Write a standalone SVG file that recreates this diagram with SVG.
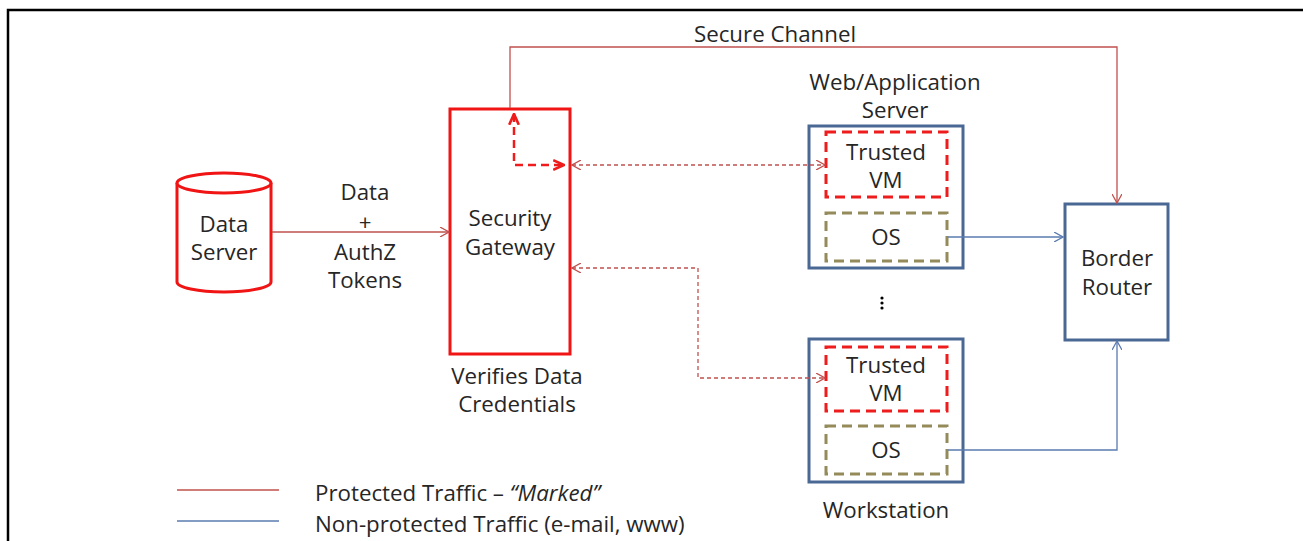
<svg xmlns="http://www.w3.org/2000/svg" width="1303" height="541" viewBox="0 0 1303 541">
  <style>
    text { font-family: "Open Sans", "Noto Sans", "Liberation Sans", sans-serif; font-size: 22.3px; fill: #262626; text-anchor: middle; }
    .legend { text-anchor: start; }
    .gw { fill: #fff; stroke: #f01414; stroke-width: 3; }
    .host { fill: #fff; stroke: #4a6894; stroke-width: 3; }
    .tvm { fill: none; stroke: #ee1c1c; stroke-width: 3; stroke-dasharray: 10 6; }
    .os { fill: none; stroke: #948a5a; stroke-width: 3; stroke-dasharray: 10 6; }
    .prot { fill: none; stroke: #c0504d; stroke-width: 1.3; }
    .plain { fill: none; stroke: #5a7bb0; stroke-width: 1.3; }
    .dot { fill: none; stroke: #c0504d; stroke-width: 1.3; stroke-dasharray: 4 3; }
    .inner { fill: none; stroke: #ee1c1c; stroke-width: 2.5; stroke-dasharray: 8 5; }
  </style>
  <defs>
    <marker id="arrRed" viewBox="0 0 10 10" refX="9" refY="5" markerWidth="10" markerHeight="10" markerUnits="userSpaceOnUse" orient="auto-start-reverse">
      <path d="M0,0 L9,5 L0,10" fill="none" stroke="#c0504d" stroke-width="1.3"/>
    </marker>
    <marker id="arrBlue" viewBox="0 0 10 10" refX="9" refY="5" markerWidth="10" markerHeight="10" markerUnits="userSpaceOnUse" orient="auto-start-reverse">
      <path d="M0,0 L9,5 L0,10" fill="none" stroke="#5a7bb0" stroke-width="1.3"/>
    </marker>
    <marker id="arrBold" viewBox="0 0 10 10" refX="9" refY="5" markerWidth="12" markerHeight="12" markerUnits="userSpaceOnUse" orient="auto-start-reverse">
      <path d="M0,1 L9,5 L0,9" fill="none" stroke="#ee1c1c" stroke-width="2.2"/>
    </marker>
  </defs>

  <rect width="1303" height="541" fill="#fff"/>
  <!-- page frame -->
  <path d="M8,541 V10 H1303" fill="none" stroke="#000" stroke-width="2.5"/>

  <g id="data-server">
    <path d="M177,183 V282 A47,10 0 0 0 271,282 V183" fill="#fff" stroke="#f01414" stroke-width="3"/>
    <ellipse cx="224" cy="183" rx="47" ry="10" fill="#fff" stroke="#f01414" stroke-width="3"/>
    <text x="224" y="232">Data</text>
    <text x="224" y="260">Server</text>
  </g>

  <g id="data-label">
    <text x="365" y="200">Data</text>
    <text x="365" y="230">+</text>
    <text x="365" y="260">AuthZ</text>
    <text x="365" y="288">Tokens</text>
  </g>

  <g id="security-gateway">
    <rect class="gw" x="450" y="109" width="120" height="245"/>
    <path class="inner" d="M514,114 V165 H564" marker-start="url(#arrBold)" marker-end="url(#arrBold)"/>
    <text x="510" y="226">Security</text>
    <text x="510" y="255">Gateway</text>
    <text x="517" y="384">Verifies Data</text>
    <text x="517" y="412">Credentials</text>
  </g>

  <text x="775" y="42">Secure Channel</text>

  <g id="web-app-server">
    <text x="895" y="90">Web/Application</text>
    <text x="895" y="118">Server</text>
    <rect class="host" x="809" y="126" width="154" height="142"/>
    <rect class="tvm" x="826" y="132" width="121" height="65"/>
    <text x="886" y="160">Trusted</text>
    <text x="886" y="188">VM</text>
    <rect class="os" x="826" y="213" width="121" height="48"/>
    <text x="886" y="245">OS</text>
  </g>

  <g id="ellipsis">
    <circle cx="882" cy="298" r="1.6" fill="#000"/>
    <circle cx="882" cy="303" r="1.6" fill="#000"/>
    <circle cx="882" cy="308" r="1.6" fill="#000"/>
  </g>

  <g id="workstation">
    <rect class="host" x="809" y="339" width="154" height="143"/>
    <rect class="tvm" x="826" y="347" width="121" height="64"/>
    <text x="886" y="373">Trusted</text>
    <text x="886" y="401">VM</text>
    <rect class="os" x="826" y="426" width="121" height="48"/>
    <text x="886" y="458">OS</text>
    <text x="886" y="518">Workstation</text>
  </g>

  <g id="border-router">
    <rect class="host" x="1065" y="204" width="103" height="136"/>
    <text x="1117" y="266">Border</text>
    <text x="1117" y="295">Router</text>
  </g>

  <g id="connectors">
    <path class="prot" d="M510,108 V47 H1117 V203" marker-end="url(#arrRed)"/>
    <path class="prot" d="M272,232 H449" marker-end="url(#arrRed)"/>
    <path class="dot" d="M572,165 H825" marker-start="url(#arrRed)" marker-end="url(#arrRed)"/>
    <path class="dot" d="M572,268 H698 V378 H825" marker-start="url(#arrRed)" marker-end="url(#arrRed)"/>
    <path class="plain" d="M948,237 H1063" marker-end="url(#arrBlue)"/>
    <path class="plain" d="M948,450 H1117 V341" marker-end="url(#arrBlue)"/>
  </g>

  <g id="legend">
    <line x1="177" y1="490" x2="279" y2="490" stroke="#c0504d" stroke-width="1.3"/>
    <line x1="177" y1="521" x2="279" y2="521" stroke="#5a7bb0" stroke-width="1.3"/>
    <text class="legend" x="315" y="501">Protected Traffic – <tspan font-style="italic">“Marked”</tspan></text>
    <text class="legend" x="315" y="532">Non-protected Traffic (e-mail, www)</text>
  </g>
</svg>
